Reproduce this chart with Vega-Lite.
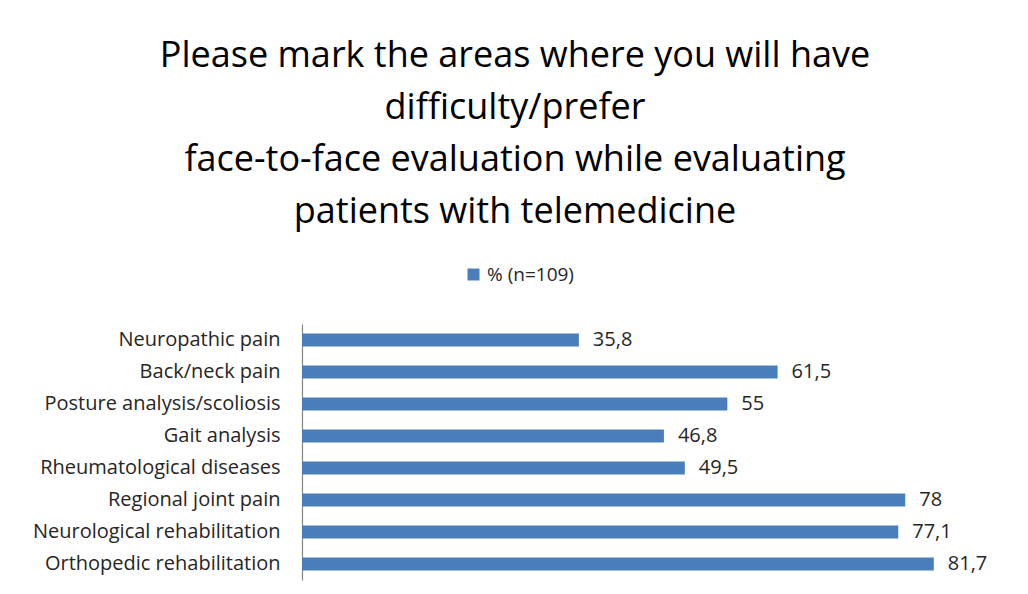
{
  "$schema": "https://vega.github.io/schema/vega-lite/v6.json",
  "width": 696,
  "height": 256,
  "padding": {"left": 32, "top": 38, "right": 30, "bottom": 16},
  "background": "white",
  "title": {
    "text": ["Please mark the areas where you will have", "difficulty/prefer", "face-to-face evaluation while evaluating", "patients with telemedicine"],
    "fontSize": 36,
    "font": "Open Sans",
    "fontWeight": "normal",
    "color": "#000000",
    "lineHeight": 52,
    "anchor": "middle",
    "frame": "bounds",
    "offset": 34
  },
  "data": {
    "values": [
      {"area": "Neuropathic pain", "value": 35.8, "label": "35,8", "series": "% (n=109)"},
      {"area": "Back/neck pain", "value": 61.5, "label": "61,5", "series": "% (n=109)"},
      {"area": "Posture analysis/scoliosis", "value": 55, "label": "55", "series": "% (n=109)"},
      {"area": "Gait analysis", "value": 46.8, "label": "46,8", "series": "% (n=109)"},
      {"area": "Rheumatological diseases", "value": 49.5, "label": "49,5", "series": "% (n=109)"},
      {"area": "Regional joint pain", "value": 78, "label": "78", "series": "% (n=109)"},
      {"area": "Neurological rehabilitation", "value": 77.1, "label": "77,1", "series": "% (n=109)"},
      {"area": "Orthopedic rehabilitation", "value": 81.7, "label": "81,7", "series": "% (n=109)"}
    ]
  },
  "encoding": {
    "y": {
      "field": "area",
      "type": "nominal",
      "sort": null,
      "scale": {"paddingInner": 0.6, "paddingOuter": 0.3},
      "axis": {
        "title": null,
        "ticks": false,
        "labelFont": "Open Sans",
        "labelFontSize": 20,
        "labelColor": "#262626",
        "labelPadding": 22,
        "labelLimit": 300,
        "minExtent": 270,
        "maxExtent": 270,
        "domainColor": "#868686",
        "domainWidth": 1.2,
        "grid": false
      }
    },
    "x": {
      "field": "value",
      "type": "quantitative",
      "scale": {"domain": [0, 90]},
      "axis": null
    }
  },
  "layer": [
    {
      "mark": {"type": "bar"},
      "encoding": {
        "color": {
          "field": "series",
          "type": "nominal",
          "scale": {"range": ["#4a7ebb"]},
          "legend": {
            "title": null,
            "orient": "none",
            "legendX": 162,
            "legendY": -59,
            "symbolType": "square",
            "symbolSize": 144,
            "symbolStrokeWidth": 0,
            "labelFont": "Open Sans",
            "labelFontSize": 19,
            "labelColor": "#262626",
            "labelOffset": 4
          }
        }
      }
    },
    {
      "mark": {"type": "text", "align": "left", "baseline": "middle", "dx": 14, "font": "Open Sans", "fontSize": 20, "color": "#262626"},
      "encoding": {"text": {"field": "label"}}
    }
  ],
  "config": {"view": {"stroke": null}}
}
